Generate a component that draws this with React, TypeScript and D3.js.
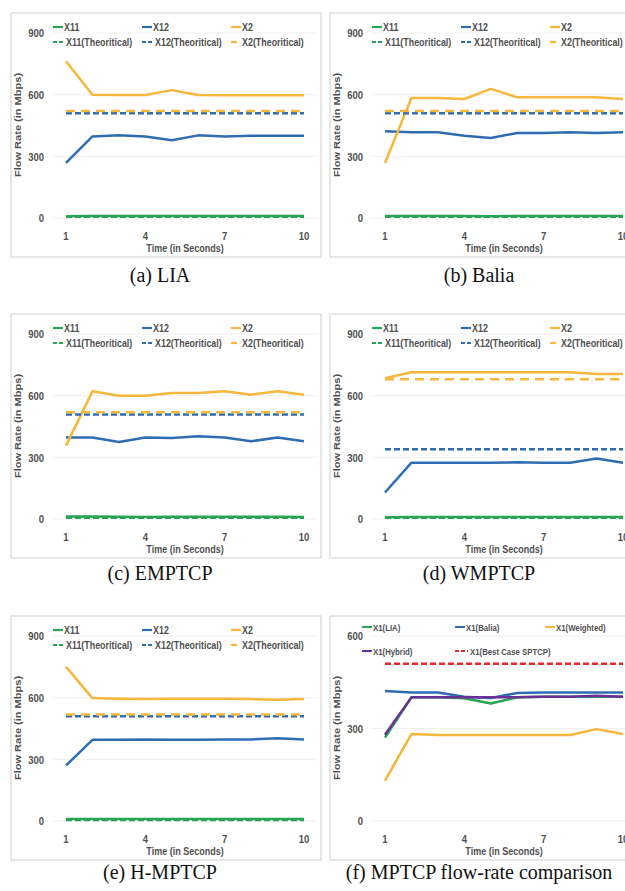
import React from "react";
import * as d3 from "d3";

// ---------- data ----------
const TIME = [1, 2, 3, 4, 5, 6, 7, 8, 9, 10];
const X_TICKS = [1, 4, 7, 10];
const Y_TICKS_900 = [0, 300, 600, 900];
const Y_TICKS_600 = [0, 300, 600];

const LIA_X11 = [8, 10, 10, 10, 10, 10, 10, 10, 10, 10];
const LIA_X12 = [268, 397, 402, 397, 378, 402, 397, 400, 400, 400];
const LIA_X2 = [763, 600, 598, 598, 622, 598, 597, 597, 597, 597];
const LIA_THEORY = [6, 510, 520]; // X11, X12, X2

const BALIA_X11 = [10, 10, 10, 10, 9, 10, 10, 10, 10, 10];
const BALIA_X12 = [422, 417, 417, 400, 389, 414, 414, 417, 414, 417];
const BALIA_X2 = [268, 584, 584, 579, 628, 587, 587, 587, 587, 579];
const BALIA_THEORY = [6, 510, 520];

const EMPTCP_X11 = [12, 12, 11, 10, 11, 11, 11, 11, 11, 10];
const EMPTCP_X12 = [397, 397, 375, 397, 394, 402, 397, 378, 397, 378];
const EMPTCP_X2 = [357, 621, 600, 600, 613, 613, 621, 605, 621, 605];
const EMPTCP_THEORY = [6, 508, 519];

const WMPTCP_X11 = [8, 10, 10, 10, 10, 10, 10, 10, 10, 10];
const WMPTCP_X12 = [129, 274, 274, 274, 274, 276, 274, 274, 294, 274];
const WMPTCP_X2 = [685, 714, 714, 714, 714, 714, 714, 714, 705, 705];
const WMPTCP_THEORY = [6, 339, 680];

const HMPTCP_X11 = [10, 10, 10, 10, 10, 10, 10, 10, 10, 10];
const HMPTCP_X12 = [270, 395, 395, 397, 395, 395, 397, 397, 402, 397];
const HMPTCP_X2 = [750, 598, 595, 593, 595, 595, 595, 593, 590, 593];
const HMPTCP_THEORY = [5, 510, 518];

const CMP_LIA = [271, 401, 401, 398, 381, 401, 403, 403, 403, 403];
const CMP_BALIA = [422, 417, 417, 403, 399, 415, 417, 417, 417, 417];
const CMP_WEIGHTED = [131, 282, 279, 279, 279, 279, 279, 279, 298, 282];
const CMP_HYBRID = [280, 401, 401, 401, 401, 401, 403, 403, 406, 403];
const CMP_BEST = 510;

const LEGEND_A = ["X11", "X12", "X2", "X11(Theoritical)", "X12(Theoritical)", "X2(Theoritical)"];
const LEGEND_F = ["X1(LIA)", "X1(Balia)", "X1(Weighted)", "X1(Hybrid)", "X1(Best Case SPTCP)"];
const CAPTIONS = [
  "(a) LIA",
  "(b) Balia",
  "(c) EMPTCP",
  "(d) WMPTCP",
  "(e) H-MPTCP",
  "(f) MPTCP flow-rate comparison",
];

// ---------- style ----------
const GREEN = "#27a455";
const BLUE = "#2f6db3";
const YELLOW = "#f6b73c";
const PURPLE = "#6b2f98";
const RED = "#e8262e";
const TXT = "#505050";
const FONT = "'Liberation Sans', Arial, sans-serif";
const SY = 1.2; // vertical stretch of the chart images

type Series = { values: number[]; color: string; dash?: string };

const T = ({ x, y, size, weight, anchor, children, rotate, fill }: any) => (
  <text
    transform={
      rotate
        ? `translate(${x},${y}) rotate(-90) scale(${SY},1)`
        : `translate(${x},${y}) scale(1,${SY})`
    }
    fontFamily={FONT}
    fontSize={size}
    fontWeight={weight || "bold"}
    textAnchor={anchor || "start"}
    fill={fill || TXT}
  >
    {children}
  </text>
);

function Panel({
  dx,
  dy,
  yMax,
  yTicks,
  series,
  legend,
}: {
  dx: number;
  dy: number;
  yMax: number;
  yTicks: number[];
  series: Series[];
  legend: React.ReactNode;
}) {
  const x = d3.scaleLinear().domain([1, 10]).range([66 + dx, 304 + dx]);
  const y = d3.scaleLinear().domain([0, yMax]).range([218 + dy, 33 + dy]);
  const line = d3
    .line<number>()
    .x((_, i) => x(TIME[i]))
    .y((d) => y(d));
  return (
    <g>
      <rect x={11 + dx} y={13 + dy} width={310} height={244} fill="#fff" stroke="#cfcfcf" strokeWidth={1} />
      {yTicks.map((t) => (
        <line key={"g" + t} x1={53 + dx} x2={317 + dx} y1={y(t)} y2={y(t)} stroke="#ececec" strokeWidth={0.8} />
      ))}
      {yTicks.map((t) => (
        <T key={"yt" + t} x={44 + dx} y={y(t) + 4.3} size={9.5} anchor="end">
          {t}
        </T>
      ))}
      {X_TICKS.map((t) => (
        <T key={"xt" + t} x={x(t)} y={240 + dy} size={9.5} anchor="middle">
          {t}
        </T>
      ))}
      <T x={185 + dx} y={252 + dy} size={9} anchor="middle">
        Time (in Seconds)
      </T>
      <T x={20.5 + dx} y={125 + dy} size={9.2} anchor="middle" rotate>
        Flow Rate (in Mbps)
      </T>
      {series.map((s, i) => (
        <path
          key={"s" + i}
          d={line(s.values) || ""}
          fill="none"
          stroke={s.color}
          strokeWidth={2.5}
          strokeDasharray={s.dash}
          strokeLinejoin="round"
        />
      ))}
      {legend}
    </g>
  );
}

const const10 = (v: number) => TIME.map(() => v);

function LegendA({ dx, dy }: { dx: number; dy: number }) {
  const cols = [53, 142, 231];
  const colors = [GREEN, BLUE, YELLOW];
  const rows = [27, 42];
  const items: React.ReactNode[] = [];
  LEGEND_A.forEach((label, i) => {
    const c = i % 3;
    const r = Math.floor(i / 3);
    const x0 = cols[c] + dx;
    const yc = rows[r] + dy;
    const theoretical = r === 1;
    const isX2T = theoretical && c === 2;
    items.push(
      <g key={label}>
        {isX2T ? (
          <line x1={x0} x2={x0 + 6} y1={yc} y2={yc} stroke={colors[c]} strokeWidth={2.2} />
        ) : (
          <line
            x1={x0}
            x2={x0 + (theoretical ? 12 : 10)}
            y1={yc}
            y2={yc}
            stroke={colors[c]}
            strokeWidth={2.2}
            strokeDasharray={theoretical ? "4,2" : undefined}
          />
        )}
        <T x={x0 + (isX2T ? 11 : theoretical ? 13 : 11)} y={yc + 4} size={8.9}>
          {label}
        </T>
      </g>
    );
  });
  return <g>{items}</g>;
}

function LegendF({ dx, dy }: { dx: number; dy: number }) {
  const cols = [43, 136, 226];
  const colors = [GREEN, BLUE, YELLOW, PURPLE, RED];
  const rows = [24, 48];
  return (
    <g>
      {LEGEND_F.map((label, i) => {
        const c = i % 3;
        const r = Math.floor(i / 3);
        const x0 = cols[c] + dx;
        const yc = rows[r] + dy;
        const dashed = i === 4;
        return (
          <g key={label}>
            <line
              x1={x0}
              x2={x0 + (dashed ? 13 : 10)}
              y1={yc}
              y2={yc}
              stroke={colors[i]}
              strokeWidth={2}
              strokeDasharray={dashed ? "4,2" : undefined}
            />
            <T x={x0 + (dashed ? 15 : 11)} y={yc + 3.6} size={7.8}>
              {label}
            </T>
          </g>
        );
      })}
    </g>
  );
}

function stdSeries(x11: number[], x12: number[], x2: number[], th: number[]): Series[] {
  return [
    { values: x11, color: GREEN },
    { values: x12, color: BLUE },
    { values: x2, color: YELLOW },
    { values: const10(th[0]), color: GREEN, dash: "6,3" },
    { values: const10(th[1]), color: BLUE, dash: "6,3" },
    { values: const10(th[2]), color: YELLOW, dash: "9,6" },
  ];
}

export default function App() {
  const DX = [0, 319];
  const DY = [0, 301, 603];
  const capY = [282, 580, 879];
  const capX = [160, 479];
  const panels = [
    stdSeries(LIA_X11, LIA_X12, LIA_X2, LIA_THEORY),
    stdSeries(BALIA_X11, BALIA_X12, BALIA_X2, BALIA_THEORY),
    stdSeries(EMPTCP_X11, EMPTCP_X12, EMPTCP_X2, EMPTCP_THEORY),
    stdSeries(WMPTCP_X11, WMPTCP_X12, WMPTCP_X2, WMPTCP_THEORY),
    stdSeries(HMPTCP_X11, HMPTCP_X12, HMPTCP_X2, HMPTCP_THEORY),
  ];
  const cmp: Series[] = [
    { values: CMP_LIA, color: GREEN },
    { values: CMP_BALIA, color: BLUE },
    { values: CMP_WEIGHTED, color: YELLOW },
    { values: CMP_HYBRID, color: PURPLE },
    { values: const10(CMP_BEST), color: RED, dash: "6,3" },
  ];
  return (
    <svg
      width={625}
      height={891}
      style={{ position: "absolute", left: 0, top: 0, background: "#fff" }}
    >
      <rect x={0} y={0} width={625} height={891} fill="#fff" />
      {panels.map((s, i) => {
        const dx = DX[i % 2];
        const dy = DY[Math.floor(i / 2)];
        return (
          <Panel
            key={i}
            dx={dx}
            dy={dy}
            yMax={900}
            yTicks={Y_TICKS_900}
            series={s}
            legend={<LegendA dx={dx} dy={dy} />}
          />
        );
      })}
      <Panel
        dx={DX[1]}
        dy={DY[2]}
        yMax={600}
        yTicks={Y_TICKS_600}
        series={cmp}
        legend={<LegendF dx={DX[1]} dy={DY[2]} />}
      />
      {CAPTIONS.map((c, i) => (
        <text
          key={c}
          x={capX[i % 2]}
          y={capY[Math.floor(i / 2)]}
          textAnchor="middle"
          fontFamily="'Liberation Serif', 'Times New Roman', serif"
          fontSize={20}
          fill="#111"
        >
          {c}
        </text>
      ))}
    </svg>
  );
}
